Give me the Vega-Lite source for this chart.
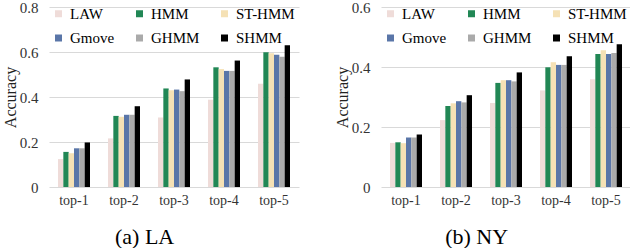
{
  "$schema": "https://vega.github.io/schema/vega-lite/v6.json",
  "padding": {"left": 2, "top": 0, "right": 0, "bottom": 0},
  "background": "white",
  "data": {"values": [
    {"city": "LA", "k": "top-1", "method": "LAW", "value": 0.124},
    {"city": "LA", "k": "top-1", "method": "HMM", "value": 0.156},
    {"city": "LA", "k": "top-1", "method": "ST-HMM", "value": 0.150},
    {"city": "LA", "k": "top-1", "method": "Gmove", "value": 0.172},
    {"city": "LA", "k": "top-1", "method": "GHMM", "value": 0.172},
    {"city": "LA", "k": "top-1", "method": "SHMM", "value": 0.198},
    {"city": "LA", "k": "top-2", "method": "LAW", "value": 0.216},
    {"city": "LA", "k": "top-2", "method": "HMM", "value": 0.316},
    {"city": "LA", "k": "top-2", "method": "ST-HMM", "value": 0.312},
    {"city": "LA", "k": "top-2", "method": "Gmove", "value": 0.321},
    {"city": "LA", "k": "top-2", "method": "GHMM", "value": 0.321},
    {"city": "LA", "k": "top-2", "method": "SHMM", "value": 0.359},
    {"city": "LA", "k": "top-3", "method": "LAW", "value": 0.309},
    {"city": "LA", "k": "top-3", "method": "HMM", "value": 0.438},
    {"city": "LA", "k": "top-3", "method": "ST-HMM", "value": 0.430},
    {"city": "LA", "k": "top-3", "method": "Gmove", "value": 0.433},
    {"city": "LA", "k": "top-3", "method": "GHMM", "value": 0.426},
    {"city": "LA", "k": "top-3", "method": "SHMM", "value": 0.478},
    {"city": "LA", "k": "top-4", "method": "LAW", "value": 0.388},
    {"city": "LA", "k": "top-4", "method": "HMM", "value": 0.532},
    {"city": "LA", "k": "top-4", "method": "ST-HMM", "value": 0.524},
    {"city": "LA", "k": "top-4", "method": "Gmove", "value": 0.516},
    {"city": "LA", "k": "top-4", "method": "GHMM", "value": 0.516},
    {"city": "LA", "k": "top-4", "method": "SHMM", "value": 0.562},
    {"city": "LA", "k": "top-5", "method": "LAW", "value": 0.459},
    {"city": "LA", "k": "top-5", "method": "HMM", "value": 0.599},
    {"city": "LA", "k": "top-5", "method": "ST-HMM", "value": 0.595},
    {"city": "LA", "k": "top-5", "method": "Gmove", "value": 0.588},
    {"city": "LA", "k": "top-5", "method": "GHMM", "value": 0.579},
    {"city": "LA", "k": "top-5", "method": "SHMM", "value": 0.630},
    {"city": "NY", "k": "top-1", "method": "LAW", "value": 0.147},
    {"city": "NY", "k": "top-1", "method": "HMM", "value": 0.149},
    {"city": "NY", "k": "top-1", "method": "ST-HMM", "value": 0.146},
    {"city": "NY", "k": "top-1", "method": "Gmove", "value": 0.165},
    {"city": "NY", "k": "top-1", "method": "GHMM", "value": 0.165},
    {"city": "NY", "k": "top-1", "method": "SHMM", "value": 0.175},
    {"city": "NY", "k": "top-2", "method": "LAW", "value": 0.223},
    {"city": "NY", "k": "top-2", "method": "HMM", "value": 0.270},
    {"city": "NY", "k": "top-2", "method": "ST-HMM", "value": 0.279},
    {"city": "NY", "k": "top-2", "method": "Gmove", "value": 0.286},
    {"city": "NY", "k": "top-2", "method": "GHMM", "value": 0.282},
    {"city": "NY", "k": "top-2", "method": "SHMM", "value": 0.306},
    {"city": "NY", "k": "top-3", "method": "LAW", "value": 0.280},
    {"city": "NY", "k": "top-3", "method": "HMM", "value": 0.347},
    {"city": "NY", "k": "top-3", "method": "ST-HMM", "value": 0.356},
    {"city": "NY", "k": "top-3", "method": "Gmove", "value": 0.356},
    {"city": "NY", "k": "top-3", "method": "GHMM", "value": 0.352},
    {"city": "NY", "k": "top-3", "method": "SHMM", "value": 0.382},
    {"city": "NY", "k": "top-4", "method": "LAW", "value": 0.322},
    {"city": "NY", "k": "top-4", "method": "HMM", "value": 0.399},
    {"city": "NY", "k": "top-4", "method": "ST-HMM", "value": 0.416},
    {"city": "NY", "k": "top-4", "method": "Gmove", "value": 0.407},
    {"city": "NY", "k": "top-4", "method": "GHMM", "value": 0.407},
    {"city": "NY", "k": "top-4", "method": "SHMM", "value": 0.436},
    {"city": "NY", "k": "top-5", "method": "LAW", "value": 0.359},
    {"city": "NY", "k": "top-5", "method": "HMM", "value": 0.443},
    {"city": "NY", "k": "top-5", "method": "ST-HMM", "value": 0.456},
    {"city": "NY", "k": "top-5", "method": "Gmove", "value": 0.443},
    {"city": "NY", "k": "top-5", "method": "GHMM", "value": 0.447},
    {"city": "NY", "k": "top-5", "method": "SHMM", "value": 0.476}
  ]},
  "spacing": 35,
  "resolve": {"scale": {"y": "independent"}, "legend": {"color": "independent"}},
  "hconcat": [
    {
      "width": 250,
      "height": 180,
      "title": {"text": "(a) LA", "orient": "bottom", "frame": "bounds", "anchor": "middle", "dx": -6, "fontSize": 22, "fontWeight": "normal", "offset": 20, "color": "black", "font": "Liberation Serif"},
      "transform": [{"filter": "datum.city == 'LA'"}],
      "mark": {"type": "bar"},
      "encoding": {
        "x": {"field": "k", "type": "nominal", "scale": {"paddingInner": 0.36, "paddingOuter": 0.18}, "axis": {"title": null, "labelAngle": 0}},
        "xOffset": {"field": "method", "type": "nominal", "sort": ["LAW", "HMM", "ST-HMM", "Gmove", "GHMM", "SHMM"], "scale": {"paddingInner": 0, "paddingOuter": 0}},
        "y": {"field": "value", "type": "quantitative", "scale": {"domain": [0, 0.8]}, "axis": {"title": "Accuracy", "values": [0, 0.2, 0.4, 0.6, 0.8], "format": ".1~f"}},
        "color": {"field": "method", "type": "nominal",
          "scale": {"domain": ["LAW", "HMM", "ST-HMM", "Gmove", "GHMM", "SHMM"], "range": ["#efdcd9", "#218755", "#f5e1b5", "#5a76a8", "#aaaaaa", "#000000"]},
          "legend": {"title": null, "orient": "none", "legendX": 2, "legendY": -1, "direction": "horizontal", "columns": 3, "symbolType": "square", "symbolSize": 49, "symbolStrokeWidth": 0, "labelFontSize": 15, "labelFont": "Liberation Serif", "labelColor": "black", "labelOffset": 4, "gridAlign": "each", "columnPadding": 17, "rowPadding": 8.5, "padding": 0}}
      }
    },
    {
      "width": 250,
      "height": 180,
      "title": {"text": "(b) NY", "orient": "bottom", "frame": "bounds", "anchor": "middle", "dx": -6, "fontSize": 22, "fontWeight": "normal", "offset": 20, "color": "black", "font": "Liberation Serif"},
      "transform": [{"filter": "datum.city == 'NY'"}],
      "mark": {"type": "bar"},
      "encoding": {
        "x": {"field": "k", "type": "nominal", "scale": {"paddingInner": 0.36, "paddingOuter": 0.18}, "axis": {"title": null, "labelAngle": 0}},
        "xOffset": {"field": "method", "type": "nominal", "sort": ["LAW", "HMM", "ST-HMM", "Gmove", "GHMM", "SHMM"], "scale": {"paddingInner": 0, "paddingOuter": 0}},
        "y": {"field": "value", "type": "quantitative", "scale": {"domain": [0, 0.6]}, "axis": {"title": "Accuracy", "values": [0, 0.2, 0.4, 0.6], "format": ".1~f"}},
        "color": {"field": "method", "type": "nominal",
          "scale": {"domain": ["LAW", "HMM", "ST-HMM", "Gmove", "GHMM", "SHMM"], "range": ["#efdcd9", "#218755", "#f5e1b5", "#5a76a8", "#aaaaaa", "#000000"]},
          "legend": {"title": null, "orient": "none", "legendX": 2, "legendY": -1, "direction": "horizontal", "columns": 3, "symbolType": "square", "symbolSize": 49, "symbolStrokeWidth": 0, "labelFontSize": 15, "labelFont": "Liberation Serif", "labelColor": "black", "labelOffset": 4, "gridAlign": "each", "columnPadding": 17, "rowPadding": 8.5, "padding": 0}}
      }
    }
  ],
  "config": {
    "font": "Liberation Serif",
    "view": {"stroke": null},
    "axis": {"domain": false, "ticks": false, "gridColor": "#d9d9d9", "gridWidth": 1, "labelFont": "Liberation Serif", "labelFontSize": 14, "labelColor": "#333333", "titleFont": "Liberation Serif", "titleFontSize": 16, "titleFontWeight": "normal", "titleColor": "#222222"},
    "axisX": {"labelPadding": 6, "grid": false},
    "axisY": {"labelPadding": 11, "titlePadding": 1, "labelFontSize": 15}
  }
}
